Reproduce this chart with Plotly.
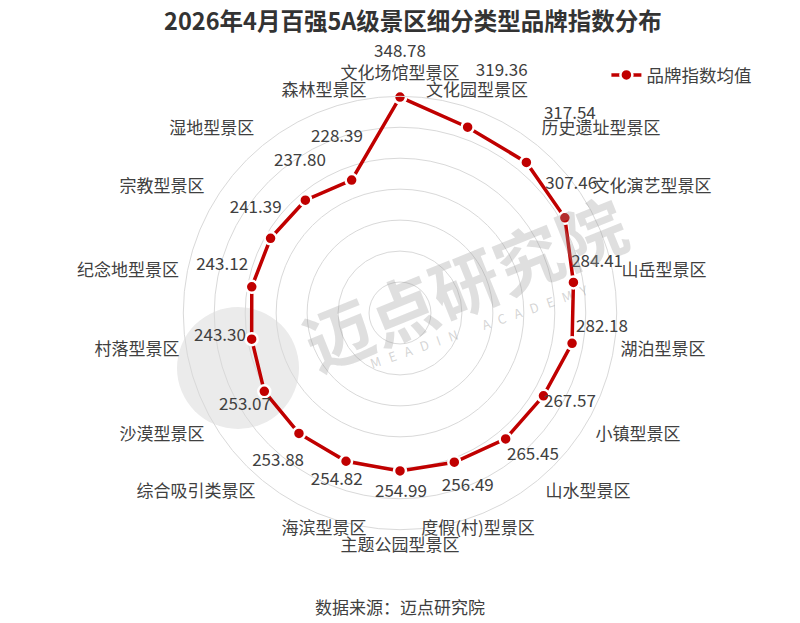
import plotly.graph_objects as go

# ---- data ----
categories = ["文化场馆型景区", "文化园型景区", "历史遗址型景区", "文化演艺型景区", "山岳型景区",
              "湖泊型景区", "小镇型景区", "山水型景区", "度假(村)型景区", "主题公园型景区",
              "海滨型景区", "综合吸引类景区", "沙漠型景区", "村落型景区", "纪念地型景区",
              "宗教型景区", "湿地型景区", "森林型景区"]
values = [348.78, 319.36, 317.54, 307.46, 284.41, 282.18, 267.57, 265.45, 256.49, 254.99,
          254.82, 253.88, 253.07, 243.30, 243.12, 241.39, 237.80, 228.39]
series_name = "品牌指数均值"
title_text = "2026年4月百强5A级景区细分类型品牌指数分布"
source_text = "数据来源：迈点研究院"

# ---- label placement (style) ----
label_dr = [71, 103, 104, 38, 44, 45, 43, 50, 45, 36, 34, 57, 39, 50, 54, 46, 55, 72]
label_dtheta = [0, 2.9, 0.6, -6.8, -4.2, -5.8, -2.1, -2.9, -1.3, -0.3, 0.7, -0.7, -1.0, 2.4, 4.8, 5.8, 6.5, 0.2]
cat_label_r = [384.5, 378, 439, 454.5, 431.6, 429.3, 432.8, 420.5, 372.5, 378,
               371.4, 439.5, 432.8, 429.3, 444.4, 434.3, 423.9, 377.5]
cat_label_dtheta = [0, -0.8, 7.7, 3.6, 1.2, -1.8, -2.7, -6.2, 0.2, 0,
                    -0.7, 8.6, 2.7, 1.8, -1.4, -2.3, -5.8, 1.0]

step = 360 / len(categories)
angles = [i * step for i in range(len(categories))]

FONT = "Noto Sans CJK SC"
RED = "#C00000"
TXT = "#404040"

# geometry of the chart (pixels)
W, H = 800, 623
CX, CY, R = 400, 313, 216.7
RMAX = 350
F = 1.35  # enlarged overlay subplot for labels


def dom(radius):
    return dict(x=[(CX - radius) / W, (CX + radius) / W],
                y=[1 - (CY + radius) / H, 1 - (CY - radius) / H])


fig = go.Figure()
fig.add_trace(go.Scatterpolar(
    r=values + values[:1],
    theta=angles + angles[:1],
    mode="lines+markers",
    name=series_name,
    line=dict(color=RED, width=3.5),
    marker=dict(size=12, color=RED, line=dict(color="white", width=2.5)),
    cliponaxis=False,
))
# value labels
fig.add_trace(go.Scatterpolar(
    r=[v + d for v, d in zip(values, label_dr)],
    theta=[a + d for a, d in zip(angles, label_dtheta)],
    mode="text",
    text=[f"{v:.2f}" for v in values],
    textfont=dict(family=FONT, size=17, color=TXT),
    textposition="middle center",
    showlegend=False, hoverinfo="skip", cliponaxis=False,
    subplot="polar2",
))
# category labels
fig.add_trace(go.Scatterpolar(
    r=cat_label_r,
    theta=[a + d for a, d in zip(angles, cat_label_dtheta)],
    mode="text",
    text=categories,
    textfont=dict(family=FONT, size=17, color=TXT),
    textposition="middle center",
    showlegend=False, hoverinfo="skip", cliponaxis=False,
    subplot="polar2",
))

sp = "\u00a0\u00a0\u00a0"
wm_letters = sp.join("MEADIN") + sp * 3 + sp.join("ACADEMY")

fig.update_layout(
    width=W, height=H,
    margin=dict(l=0, r=0, t=0, b=0),
    paper_bgcolor="white",
    font=dict(family=FONT, color=TXT),
    title=dict(text="<b>" + title_text + "</b>", x=413 / W, xanchor="center", y=1 - 22 / H,
               yanchor="middle", font=dict(family=FONT, size=23.5, color="#333333")),
    polar=dict(
        domain=dom(R),
        bgcolor="rgba(0,0,0,0)",
        gridshape="linear",
        radialaxis=dict(range=[0, RMAX], dtick=50, showticklabels=False, ticks="",
                        showline=False, gridcolor="#d9d9d9", gridwidth=1),
        angularaxis=dict(rotation=90, direction="clockwise", tickmode="array",
                         tickvals=angles, ticktext=categories, ticks="", showgrid=False,
                         showticklabels=False, linecolor="#d9d9d9", linewidth=1),
    ),
    polar2=dict(
        domain=dom(R * F),
        bgcolor="rgba(0,0,0,0)",
        radialaxis=dict(range=[0, RMAX * F], visible=False),
        angularaxis=dict(rotation=90, direction="clockwise", visible=False),
    ),
    legend=dict(x=0.758, xanchor="left", y=1 - 75 / H, yanchor="middle",
                font=dict(family=FONT, size=17.5, color=TXT), bgcolor="rgba(0,0,0,0)"),
    annotations=[
        dict(text=source_text, x=0.5, y=1 - 606 / H, xref="paper", yref="paper",
             xanchor="center", yanchor="middle",
             showarrow=False, font=dict(family=FONT, size=17, color=TXT)),
        dict(text="<b>迈点研究院</b>", x=464 / W, y=1 - 281 / H, xref="paper", yref="paper",
             xanchor="center", yanchor="middle",
             showarrow=False, textangle=-22,
             font=dict(family=FONT, size=68, color="rgba(150,150,150,0.30)")),
        dict(text=wm_letters, x=478 / W, y=1 - 326 / H,
             xref="paper", yref="paper", xanchor="center", yanchor="middle",
             showarrow=False, textangle=-19,
             font=dict(family=FONT, size=13, color="rgba(150,150,150,0.40)")),
    ],
    shapes=[
        dict(type="circle", xref="paper", yref="paper", layer="below",
             x0=177 / W, x1=299 / W, y0=1 - 429 / H, y1=1 - 307 / H,
             fillcolor="#ebebeb", line=dict(width=0)),
    ],
)

fig.write_html("out.html", post_script="document.body.style.margin='0px';",
               config={"displayModeBar": False})
